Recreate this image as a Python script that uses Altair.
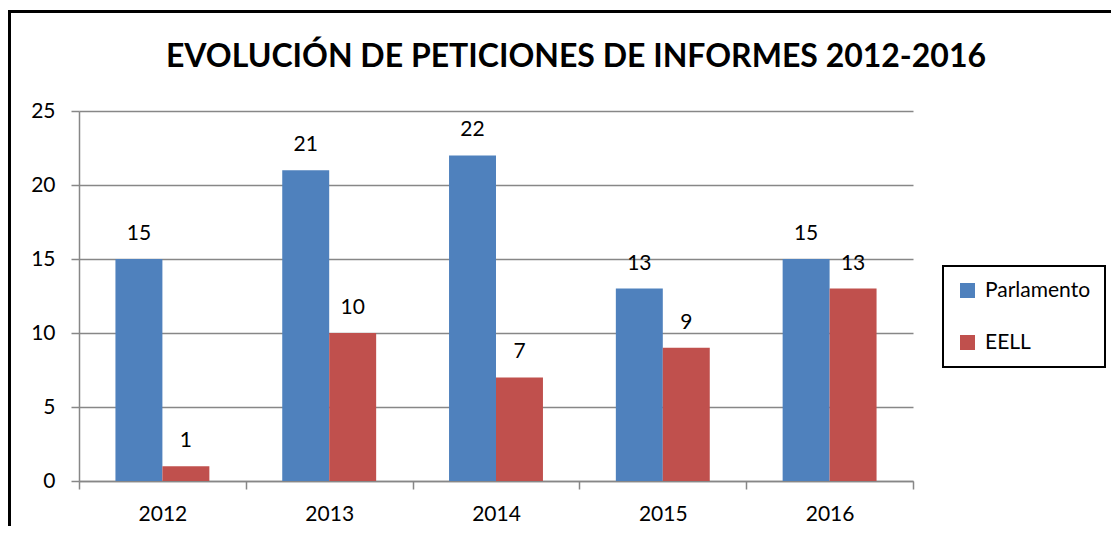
import altair as alt
import pandas as pd

years = ["2012", "2013", "2014", "2015", "2016"]
series = ["Parlamento", "EELL"]
parlamento = [15, 21, 22, 13, 15]
eell = [1, 10, 7, 9, 13]
colors = ["#4F81BD", "#C0504D"]
title_text = "EVOLUCIÓN DE PETICIONES DE INFORMES 2012-2016"

rows = []
for i, y in enumerate(years):
    rows.append({"year": y, "serie": "Parlamento", "value": parlamento[i]})
    rows.append({"year": y, "serie": "EELL", "value": eell[i]})
df = pd.DataFrame(rows)

FONT = "Lato"
GRID = "#878787"

x = alt.X(
    "year:N",
    sort=years,
    title=None,
    scale=alt.Scale(paddingInner=0, paddingOuter=0),
    axis=alt.Axis(
        tickBand="extent",
        labelAngle=0,
        labelFont=FONT,
        labelFontSize=21,
        labelColor="black",
        labelPadding=14,
        tickSize=8,
        tickColor=GRID,
        domainColor=GRID,
        tickWidth=1.5,
        domainWidth=1.5,
        grid=False,
    ),
)
xo = alt.XOffset(
    "serie:N",
    sort=series,
    scale=alt.Scale(domain=series, paddingOuter=0.776, paddingInner=0),
)

base = alt.Chart(df)

bars = base.mark_bar().encode(
    x=x,
    xOffset=xo,
    y=alt.Y(
        "value:Q",
        title=None,
        scale=alt.Scale(domain=[0, 25], nice=False),
        axis=alt.Axis(
            values=[0, 5, 10, 15, 20, 25],
            labelFont=FONT,
            labelFontSize=21,
            labelColor="black",
            labelPadding=16,
            tickSize=8,
            tickColor=GRID,
            domainColor=GRID,
            gridColor=GRID,
            tickWidth=1.5,
            domainWidth=1.5,
            gridWidth=1.5,
        ),
    ),
    color=alt.Color(
        "serie:N",
        sort=series,
        scale=alt.Scale(domain=series, range=colors),
        legend=alt.Legend(
            title=None,
            orient="none",
            legendX=864,
            legendY=155,
            strokeColor="black",
            padding=14,
            rowPadding=30,
            symbolType="square",
            symbolSize=225,
            symbolStrokeWidth=0,
            symbolOpacity=1,
            labelFont=FONT,
            labelFontSize=21,
            labelColor="black",
            labelOffset=7,
        ),
    ),
)

labels = base.mark_text(
    baseline="alphabetic", dy=-19, font=FONT, fontSize=21, color="black"
).encode(
    x=alt.X("year:N", sort=years),
    xOffset=xo,
    y=alt.Y("value:Q"),
    text=alt.Text("value:Q"),
)

title_mark = alt.Chart(pd.DataFrame({"t": [title_text]})).mark_text(
    font=FONT, fontSize=32, fontWeight="bold", color="black",
    align="center", baseline="alphabetic",
).encode(
    x=alt.value(497),
    y=alt.value(-44),
    text="t:N",
)

border_top = base.mark_rule(stroke="black", strokeWidth=2).encode(
    x=alt.value(-70.5),
    x2=alt.value(1100),
    y=alt.value(-99.5),
)
border_left = base.mark_rule(stroke="black", strokeWidth=2).encode(
    x=alt.value(-69.5),
    y=alt.value(-100.5),
    y2=alt.value(500),
)

chart = (
    alt.layer(border_top, border_left, bars, labels, title_mark)
    .properties(
        width=834,
        height=370,
        padding={"left": 71, "top": 103, "right": 198, "bottom": 45},
        autosize=alt.AutoSizeParams(type="none"),
    )
    .configure_view(stroke=None)
    .configure_legend(strokeWidth=2)
)

chart.save("out.html", embed_options={"renderer": "svg", "actions": False})
